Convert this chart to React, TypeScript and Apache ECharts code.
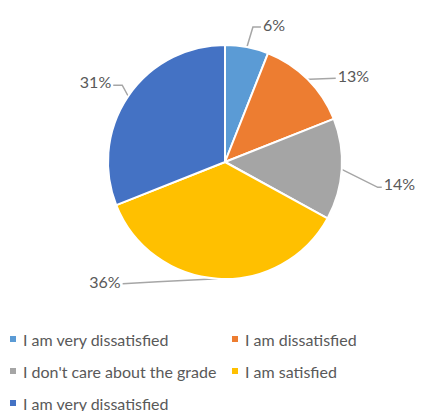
import React, { useEffect, useRef } from "react";
import * as echarts from "echarts";

const categories = [
  "I am very dissatisfied",
  "I am dissatisfied",
  "I don't care about the grade",
  "I am satisfied",
  "I am very dissatisfied",
];
const values = [6, 13, 14, 36, 31];
const colors = ["#5B9BD5", "#ED7D31", "#A5A5A5", "#FFC000", "#4472C4"];

// leader-line offsets from the slice edge: [bendDx, bendDy, endDx, endDy, labelDx, labelDy, side]
const leader: [number, number, number, number, number, number, string][] = [
  [6, -20, 14, -20, 16, -23, "left"],
  [2, 0, 28, -1, 30, -4, "left"],
  [36, 18, 40, 18, 42, 14, "left"],
  [-60, 3, -95, 5, -97, 3, "right"],
  [-6, -11, -15, -11, -17, -15, "right"],
];

export default function App() {
  const ref = useRef<HTMLDivElement>(null);
  useEffect(() => {
    if (!ref.current) return;
    const chart = echarts.init(ref.current, undefined, { renderer: "svg" });
    const legendPos = [
      [13, 339],
      [235, 339],
      [13, 371],
      [235, 371],
      [13, 403],
    ];
    const graphic: any[] = [];
    categories.forEach((c, i) => {
      const [x, y] = legendPos[i];
      graphic.push({
        type: "rect",
        shape: { x: x - 3, y: y - 3, width: 6, height: 6 },
        style: { fill: colors[i] },
      });
      graphic.push({
        type: "text",
        x: x + 10,
        y: y,
        style: {
          text: c,
          fill: "#595959",
          font: "16px Lato",
          verticalAlign: "middle",
        },
      });
    });
    chart.setOption({
      animation: false,
      backgroundColor: "#ffffff",
      graphic,
      series: [
        {
          type: "pie",
          center: [225, 162],
          radius: 117,
          startAngle: 90,
          clockwise: true,
          data: values.map((v, i) => ({
            value: v,
            name: categories[i],
            itemStyle: { color: colors[i] },
          })),
          itemStyle: { borderColor: "#ffffff", borderWidth: 2 },
          label: {
            show: true,
            formatter: (p: any) => p.value + "%",
            color: "#595959",
            fontFamily: "Lato",
            fontSize: 16,
          },
          labelLine: {
            show: true,
            length: 12,
            length2: 18,
            lineStyle: { color: "#A6A6A6", width: 1.5 },
          },
          labelLayout: (params: any) => {
            const pts = params.labelLinePoints;
            if (!pts) return {};
            const p0 = pts[0];
            const o = leader[params.dataIndex];
            return {
              x: p0[0] + o[4],
              y: p0[1] + o[5],
              align: o[6],
              verticalAlign: "middle",
              labelLinePoints: [
                [p0[0], p0[1]],
                [p0[0] + o[0], p0[1] + o[1]],
                [p0[0] + o[2], p0[1] + o[3]],
              ],
            };
          },
        },
      ],
    });
    return () => chart.dispose();
  }, []);
  return (
    <div
      ref={ref}
      style={{ position: "absolute", left: 0, top: 0, width: 422, height: 411 }}
    />
  );
}
